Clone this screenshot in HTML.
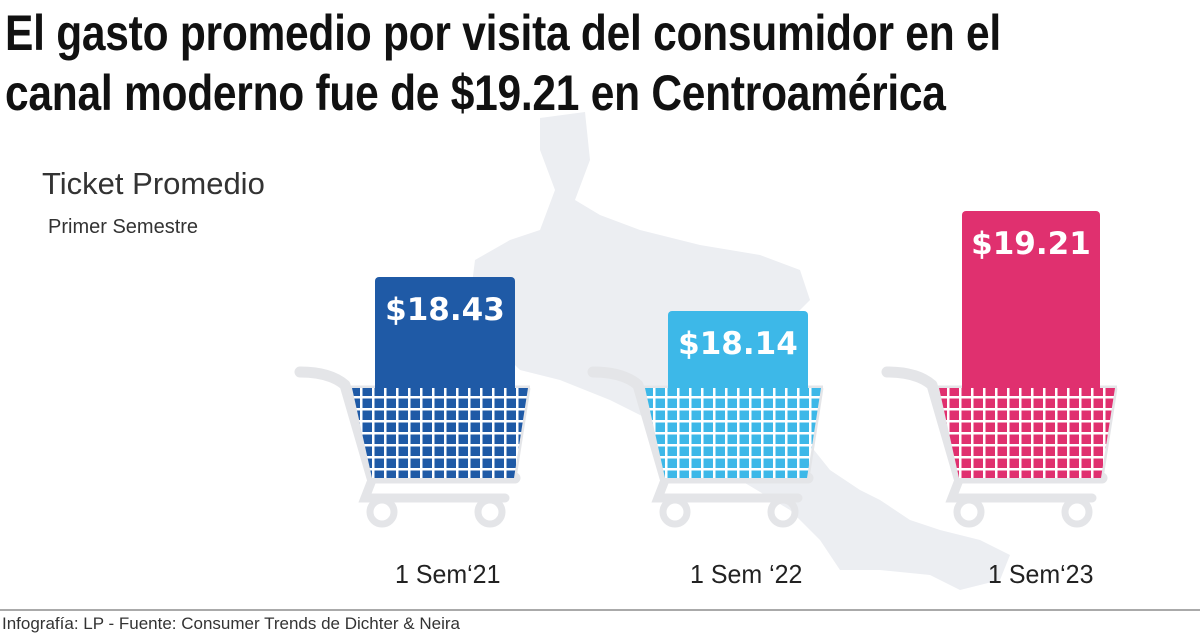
<!DOCTYPE html>
<html><head><meta charset="utf-8"><style>
html,body{margin:0;padding:0;background:#fff;width:1200px;height:637px;overflow:hidden;position:relative;font-family:"Liberation Sans",sans-serif}
.t{position:absolute;left:5px;font-family:"Liberation Sans Narrow","Liberation Sans",sans-serif;font-weight:bold;font-size:50px;color:#111;letter-spacing:-0.3px;white-space:nowrap;transform:scaleX(0.85);transform-origin:0 0}
.lab{position:absolute;font-family:"Liberation Sans Narrow","Liberation Sans",sans-serif;font-size:26px;color:#222;transform:scaleX(0.96);transform-origin:0 0}
</style></head><body>
<svg width="1200" height="637" style="position:absolute;left:0;top:0">
<defs>
<clipPath id="bk"><polygon points="352,388 528,388 514,478 372,478"/></clipPath>
<pattern id="g1" width="12" height="12" patternUnits="userSpaceOnUse"><rect width="12" height="12" fill="#fff"/><rect x="2.5" y="2.5" width="9.5" height="9.5" fill="#1f5aa6"/></pattern>
<pattern id="g2" width="12" height="12" patternUnits="userSpaceOnUse"><rect width="12" height="12" fill="#fff"/><rect x="2.5" y="2.5" width="9.5" height="9.5" fill="#3db8e8"/></pattern>
<pattern id="g3" width="12" height="12" patternUnits="userSpaceOnUse"><rect width="12" height="12" fill="#fff"/><rect x="2.5" y="2.5" width="9.5" height="9.5" fill="#e0306f"/></pattern>
<g id="cart">
<path d="M300,372 Q330,372 345,385 L372,478 L515,478" fill="none" stroke="#e4e5e8" stroke-width="11" stroke-linecap="round" stroke-linejoin="round"/>
<path d="M372,480 L365,498 L505,498" fill="none" stroke="#e4e5e8" stroke-width="9" stroke-linecap="round"/>
<line x1="346" y1="388" x2="530" y2="388" stroke="#e4e5e8" stroke-width="5"/>
<line x1="528" y1="388" x2="514" y2="478" stroke="#e4e5e8" stroke-width="5"/>
<circle cx="382" cy="512" r="12" fill="none" stroke="#e4e5e8" stroke-width="7"/>
<circle cx="490" cy="512" r="12" fill="none" stroke="#e4e5e8" stroke-width="7"/>
</g>
</defs>
<polygon fill="#eceef2" points="540,118 585,112 590,160 575,200 600,215 640,230 700,245 760,255 800,270 810,300 780,330 760,360 790,420 830,470 860,490 880,500 910,520 940,530 980,540 1010,555 1000,580 960,590 930,575 880,570 840,570 820,540 790,510 740,480 700,450 650,420 610,400 560,380 520,370 490,340 470,300 475,260 510,240 540,230 555,190 540,150"/>
<use href="#cart"/>
<rect x="375" y="277" width="140" height="120" rx="4" fill="#1f5aa6"/>
<rect x="345" y="388" width="190" height="95" fill="url(#g1)" clip-path="url(#bk)"/>
<g transform="translate(293,0)"><use href="#cart"/>
<rect x="375" y="311" width="140" height="86" rx="4" fill="#3db8e8"/>
<rect x="345" y="388" width="190" height="95" fill="url(#g2)" clip-path="url(#bk)"/></g>
<g transform="translate(587,0)"><use href="#cart"/>
<rect x="375" y="211" width="138" height="186" rx="4" fill="#e0306f"/>
<rect x="345" y="388" width="190" height="95" fill="url(#g3)" clip-path="url(#bk)"/></g>
<g font-family="DejaVu Sans,sans-serif" font-weight="bold" font-size="31" fill="#fff" text-anchor="middle">
<text x="445" y="320">$18.43</text><text x="738" y="354">$18.14</text><text x="1031" y="254">$19.21</text></g>
<line x1="0" y1="610" x2="1200" y2="610" stroke="#555" stroke-width="1"/>
</svg>
<div class="t" style="top:4px">El gasto promedio por visita del consumidor en el</div>
<div class="t" style="top:64px">canal moderno fue de $19.21 en Centroamérica</div>
<div style="position:absolute;left:42px;top:166px;font-size:31px;color:#333">Ticket Promedio</div>
<div style="position:absolute;left:48px;top:216px;font-size:20px;color:#333">Primer Semestre</div>
<div class="lab" style="left:395px;top:559px">1 Sem‘21</div>
<div class="lab" style="left:690px;top:559px">1 Sem ‘22</div>
<div class="lab" style="left:988px;top:559px">1 Sem‘23</div>
<div style="position:absolute;left:2px;top:614px;font-size:17px;color:#333">Infografía: LP - Fuente: Consumer Trends de Dichter &amp; Neira</div>
</body></html>
